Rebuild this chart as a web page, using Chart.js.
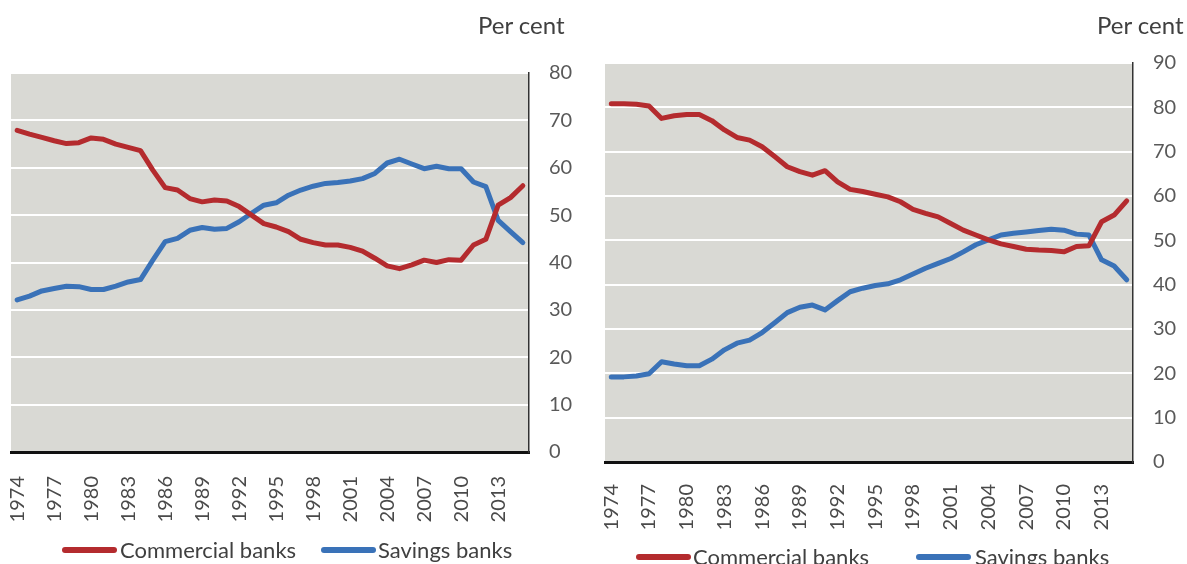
<!DOCTYPE html>
<html>
<head>
<meta charset="utf-8">
<script src="https://cdn.jsdelivr.net/npm/chart.js@4/dist/chart.umd.min.js"></script>
<style>
  body { margin: 0; background: #fff; width: 1187px; height: 564px; overflow: hidden; position: relative; font-family: Lato, 'Open Sans', sans-serif; }
  canvas { position: absolute; top: 0; }
  .unit { position: absolute; top: 10px; font-size: 24px; color: #404040; white-space: nowrap; }
  .item { position: absolute; font-size: 22px; color: #404040; white-space: nowrap; line-height: 26px; }
  .swatch { position: absolute; width: 55px; height: 6px; border-radius: 3px; }
</style>
</head>
<body>
<canvas id="leftChart" width="590" height="530" style="left:0"></canvas>
<canvas id="rightChart" width="597" height="540" style="left:590px"></canvas>

<div class="unit" style="left:478px">Per cent</div>
<div class="unit" style="left:1097px">Per cent</div>

<span class="swatch" style="left:62px; top:547px; background:#b42b2e"></span>
<span class="item" style="left:120px; top:537px">Commercial banks</span>
<span class="swatch" style="left:321px; top:547px; background:#3a72b8"></span>
<span class="item" style="left:378px; top:537px">Savings banks</span>

<span class="swatch" style="left:636px; top:554px; background:#b42b2e"></span>
<span class="item" style="left:693px; top:544px">Commercial banks</span>
<span class="swatch" style="left:916px; top:554px; background:#3a72b8"></span>
<span class="item" style="left:975px; top:544px">Savings banks</span>

<script>
const years = ['1974','1975','1976','1977','1978','1979','1980','1981','1982','1983',
  '1984','1985','1986','1987','1988','1989','1990','1991','1992','1993',
  '1994','1995','1996','1997','1998','1999','2000','2001','2002','2003',
  '2004','2005','2006','2007','2008','2009','2010','2011','2012','2013',
  '2014','2015'];

// venstre figur
const leftCommercial = [67.9, 67.1, 66.4, 65.7, 65.1, 65.3, 66.3, 66.0, 65.0, 64.3,
  63.6, 59.5, 55.8, 55.3, 53.5, 52.8, 53.2, 53.0, 51.8, 50.0,
  48.2, 47.5, 46.5, 44.9, 44.2, 43.7, 43.7, 43.2, 42.4, 40.9,
  39.3, 38.7, 39.5, 40.5, 40.0, 40.6, 40.5, 43.7, 44.9, 52.1,
  53.7, 56.2];
const leftSavings = [32.1, 32.9, 34.0, 34.5, 35.0, 34.9, 34.3, 34.3, 35.0, 35.9,
  36.4, 40.5, 44.4, 45.1, 46.8, 47.4, 47.0, 47.2, 48.6, 50.4,
  52.1, 52.6, 54.2, 55.3, 56.1, 56.7, 56.9, 57.2, 57.7, 58.8,
  61.0, 61.8, 60.8, 59.8, 60.3, 59.8, 59.8, 57.0, 56.0, 48.9,
  46.5, 44.2];

// høyre figur
const rightCommercial = [80.8, 80.8, 80.7, 80.3, 77.5, 78.1, 78.4, 78.4, 77.0, 74.9,
  73.2, 72.6, 71.1, 68.9, 66.6, 65.5, 64.7, 65.7, 63.2, 61.5,
  61.0, 60.4, 59.8, 58.7, 57.0, 56.1, 55.3, 53.8, 52.3, 51.2,
  50.1, 49.2, 48.6, 48.0, 47.8, 47.7, 47.4, 48.6, 48.8, 54.2,
  55.7, 58.9];
const rightSavings = [19.2, 19.2, 19.4, 19.9, 22.6, 22.1, 21.7, 21.7, 23.2, 25.3,
  26.8, 27.5, 29.2, 31.4, 33.7, 34.9, 35.4, 34.3, 36.4, 38.4,
  39.2, 39.8, 40.2, 41.1, 42.4, 43.7, 44.8, 45.9, 47.4, 49.0,
  50.1, 51.2, 51.6, 51.9, 52.2, 52.5, 52.3, 51.4, 51.2, 45.6,
  44.2, 41.1];

const labelFont = { family: 'Lato', size: 20 };

// grå bakgrunn i plottområdet
const plotBackground = {
  id: 'plotBackground',
  beforeDraw(chart) {
    const { ctx, chartArea } = chart;
    ctx.save();
    ctx.fillStyle = '#d9d9d4';
    ctx.fillRect(chartArea.left, chartArea.top, chartArea.right - chartArea.left, chartArea.bottom - chartArea.top);
    ctx.restore();
  }
};

function makeChart(id, commercial, savings, yMax, box) {
  const ctx = document.getElementById(id).getContext('2d');
  return new Chart(ctx, {
    type: 'line',
    data: {
      labels: years,
      datasets: [
        { label: 'Commercial banks', data: commercial, borderColor: '#b42b2e' },
        { label: 'Savings banks', data: savings, borderColor: '#3a72b8' }
      ]
    },
    options: {
      responsive: false,
      animation: false,
      layout: { padding: { left: box.left, top: box.top, right: 0, bottom: 0 } },
      elements: {
        line: { borderWidth: 5, tension: 0, borderCapStyle: 'round', borderJoinStyle: 'round' },
        point: { radius: 0 }
      },
      plugins: { legend: { display: false }, tooltip: { enabled: false } },
      scales: {
        x: {
          offset: true,
          grid: { display: false },
          border: { display: true, color: '#111', width: 3 },
          ticks: {
            font: labelFont,
            color: '#4a4a4a',
            autoSkip: false,
            minRotation: 90,
            maxRotation: 90,
            padding: box.xPad,
            callback: (v, i) => (i % 3 === 0 ? years[i] : null)
          },
          afterFit: (scale) => { scale.height = box.xHeight; }
        },
        y: {
          position: 'right',
          min: 0,
          max: yMax,
          grid: {
            color: (c) => (c.tick.value === 0 ? 'rgba(0,0,0,0)' : '#ffffff'),
            lineWidth: 2,
            drawTicks: false
          },
          border: { display: true, color: '#333', width: 1.5 },
          ticks: {
            stepSize: 10,
            font: labelFont,
            color: '#595959',
            padding: 20
          },
          afterFit: (scale) => { scale.width = box.yWidth; }
        }
      }
    },
    plugins: [plotBackground]
  });
}

makeChart('leftChart', leftCommercial, leftSavings, 80,
  { left: 11, top: 73, yWidth: 61, xHeight: 78, xPad: 16 });
makeChart('rightChart', rightCommercial, rightSavings, 90,
  { left: 15, top: 63, yWidth: 54, xHeight: 78, xPad: 14 });
</script>
</body>
</html>
